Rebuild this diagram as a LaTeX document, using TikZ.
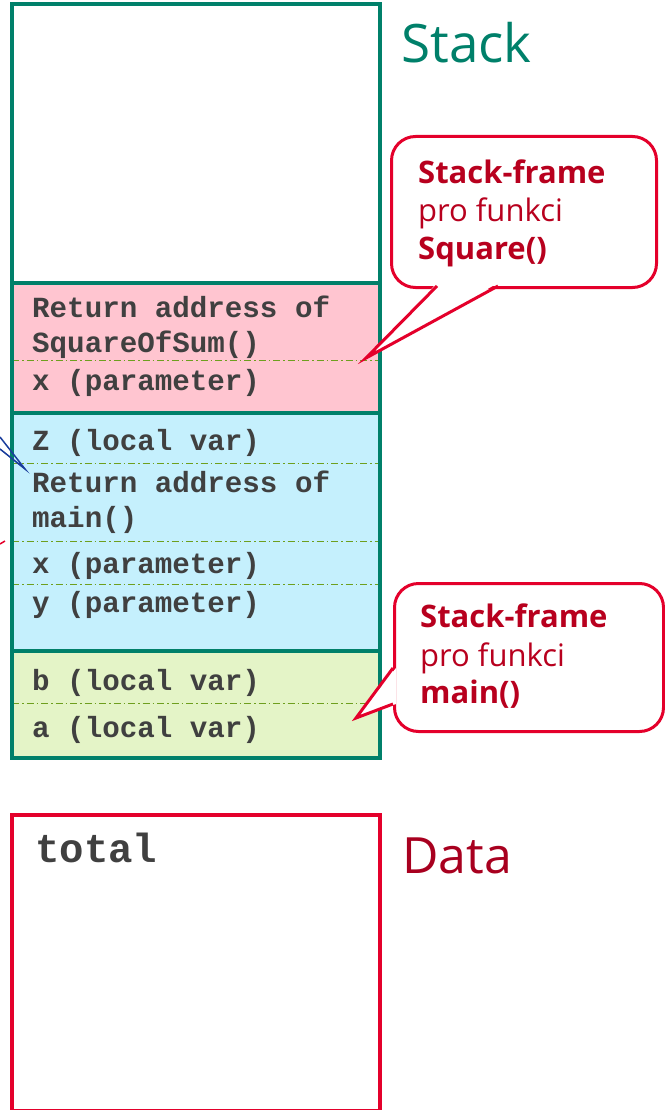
\documentclass[tikz,border=0pt]{standalone}
\usepackage{fontspec}
\setmainfont{Open Sans}
\newfontfamily\codefont{Liberation Mono}
\usepackage{tikz}
\usetikzlibrary{positioning}

\definecolor{stackgreen}{HTML}{00806A}
\definecolor{pinkfill}{HTML}{FFC5D0}
\definecolor{bluefill}{HTML}{C5F0FD}
\definecolor{limefill}{HTML}{E4F4C7}
\definecolor{dotgreen}{HTML}{6E9F1E}
\definecolor{codegray}{HTML}{404040}
\definecolor{calloutred}{HTML}{E4002B}
\definecolor{notered}{HTML}{B8001E}
\definecolor{datared}{HTML}{A8001F}
\definecolor{pointerblue}{HTML}{1A3D9C}

\tikzset{
  code/.style={anchor=base west, inner sep=0pt, text=codegray,
    font=\codefont\bfseries\fontsize{29.2pt}{35pt}\selectfont},
  divider/.style={dotgreen, line width=1pt, dash pattern=on 7pt off 3pt on 1.5pt off 3pt},
  stackline/.style={stackgreen, line width=4pt},
  bubble/.style={draw=calloutred, line width=3pt, rounded corners=24pt, fill=white,
    anchor=north west, inner sep=0pt},
  pointer/.style={calloutred, line width=3pt},
  note/.style={anchor=base west, inner sep=0pt, text=notered,
    font=\fontsize{31pt}{38pt}\selectfont},
}

\begin{document}
\begin{tikzpicture}[x=1pt, y=-1pt]
    \useasboundingbox (0,0) rectangle (664,1110);
    % stack frames
    \fill[pinkfill] (12,283) rectangle (380,413);
    \fill[bluefill] (12,413) rectangle (380,651);
    \fill[limefill] (12,651) rectangle (380,758);
    \draw[divider] (12,360) -- (380,360);
    \draw[divider] (12,463) -- (380,463);
    \draw[divider] (12,541) -- (380,541);
    \draw[divider] (12,584) -- (380,584);
    \draw[divider] (12,703) -- (380,703);
    \draw[stackline] (12,4) rectangle (380,758);
    \draw[stackline] (12,283) -- (380,283);
    \draw[stackline] (12,413) -- (380,413);
    \draw[stackline] (12,651) -- (380,651);

    \node[code] (sqret) at (32,317) {Return address of};
    \node[code] (sqretfn) at (32,352) {SquareOfSum()};
    \node[code] (sqx) at (32,390) {x (parameter)};
    \node[code] (sosz) at (32,450) {Z (local var)};
    \node[code] (sosret) at (32,492) {Return address of};
    \node[code] (sosretfn) at (32,527) {main()};
    \node[code] (sosx) at (32,573) {x (parameter)};
    \node[code] (sosy) at (32,612) {y (parameter)};
    \node[code] (mainb) at (32,690) {b (local var)};
    \node[code] (maina) at (32,737) {a (local var)};

    \node[anchor=base west, inner sep=0pt, text=stackgreen, font=\fontsize{53pt}{60pt}\selectfont]
        (stacklabel) at (401,63) {Stack};

    % callout for Square()
    \node[bubble, minimum width=265pt, minimum height=151pt] (sqbubble) at (390,135) {};
    \coordinate (sqtip) at (366,358);
    \coordinate (sqleft) at (437,286);
    \coordinate (sqright) at (498,286);
    \fill[white] ([yshift=3pt]sqleft) -- (sqtip) -- ([yshift=3pt]sqright) -- cycle;
    \draw[pointer] (sqleft) -- (sqtip) -- (sqright);
    \node[note, font=\bfseries\fontsize{31pt}{38pt}\selectfont] (sqnote1) at (418,183) {Stack-frame};
    \node[note] (sqnote2) at (418,221) {pro funkci};
    \node[note, font=\bfseries\fontsize{31pt}{38pt}\selectfont] (sqnote3) at (418,259) {Square()};

    % callout for main()
    \node[bubble, minimum width=269pt, minimum height=148pt] (mainbubble) at (393,582) {};
    \coordinate (maintip) at (356,718);
    \coordinate (mainup) at (393,668);
    \coordinate (maindown) at (393,704);
    \fill[white] ([xshift=3pt]mainup) -- (maintip) -- ([xshift=3pt]maindown) -- cycle;
    \draw[pointer] (mainup) -- (maintip) -- (maindown);
    \node[note, font=\bfseries\fontsize{31pt}{38pt}\selectfont] (mainnote1) at (420,627) {Stack-frame};
    \node[note] (mainnote2) at (420,666) {pro funkci};
    \node[note, font=\bfseries\fontsize{31pt}{38pt}\selectfont] (mainnote3) at (420,703) {main()};

    % pointers cut off at the left edge
    \coordinate (bluetip) at (25,469);
    \coordinate (blueup) at (0,437);
    \coordinate (bluedown) at (0,449);
    \draw[pointerblue, line width=1.5pt] (blueup) -- (bluetip) -- (bluedown);
    \coordinate (redend) at (0,544);
    \coordinate (redtip) at (5,541);
    \draw[calloutred, line width=1.5pt] (redend) -- (redtip);

    % data segment
    \draw[calloutred, line width=4pt] (12,815) rectangle (380,1111);
    \node[code, font=\codefont\bfseries\fontsize{40.7pt}{48pt}\selectfont] (total) at (35,862) {total};
    \node[anchor=base west, inner sep=0pt, text=datared, font=\fontsize{50pt}{60pt}\selectfont]
        (datalabel) at (402,873) {Data};
\end{tikzpicture}
\end{document}
